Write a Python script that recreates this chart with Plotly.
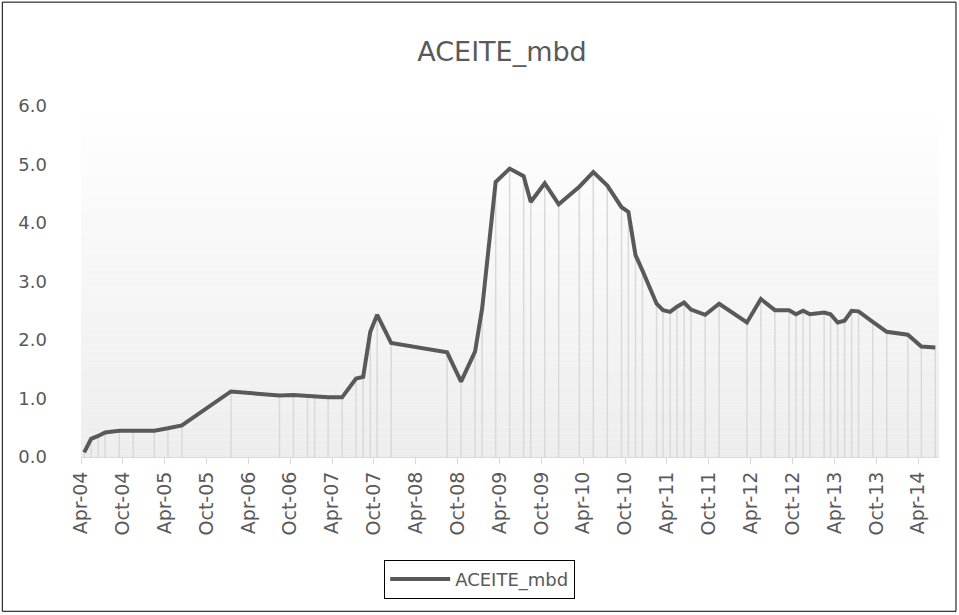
import plotly.graph_objects as go

# ---- data ----
dates = [
    "2004-04-15", "2004-05-15", "2004-06-15", "2004-07-15", "2004-09-15", "2004-11-15",
    "2005-02-15", "2005-04-15", "2005-06-15", "2006-01-15", "2006-08-15", "2006-10-15",
    "2006-12-15", "2007-01-15", "2007-03-15", "2007-05-15", "2007-07-15", "2007-08-15",
    "2007-09-15", "2007-10-15", "2007-12-15", "2008-08-15", "2008-10-15", "2008-12-15",
    "2009-01-15", "2009-03-15", "2009-05-15", "2009-07-15", "2009-08-15", "2009-10-15",
    "2009-12-15", "2010-03-15", "2010-05-15", "2010-07-15", "2010-09-15", "2010-10-15",
    "2010-11-15", "2010-12-15", "2011-02-15", "2011-03-15", "2011-04-15", "2011-05-15",
    "2011-06-15", "2011-07-15", "2011-09-15", "2011-11-15", "2012-03-15", "2012-05-15",
    "2012-07-15", "2012-09-15", "2012-10-15", "2012-11-15", "2012-12-15", "2013-02-15",
    "2013-03-15", "2013-04-15", "2013-05-15", "2013-06-15", "2013-07-15", "2013-09-15",
    "2013-11-15", "2014-02-15", "2014-04-15", "2014-06-15",
]
aceite_mbd = [
    0.08, 0.31, 0.36, 0.42, 0.45, 0.45,
    0.45, 0.49, 0.54, 1.12, 1.05, 1.06,
    1.04, 1.03, 1.02, 1.02, 1.34, 1.37,
    2.14, 2.43, 1.95, 1.79, 1.29, 1.80,
    2.54, 4.70, 4.93, 4.80, 4.36, 4.68,
    4.32, 4.62, 4.87, 4.64, 4.27, 4.19,
    3.45, 3.19, 2.62, 2.51, 2.48, 2.57,
    2.64, 2.52, 2.43, 2.62, 2.30, 2.70,
    2.51, 2.51, 2.44, 2.50, 2.44, 2.47,
    2.44, 2.30, 2.33, 2.50, 2.49, 2.31,
    2.14, 2.09, 1.89, 1.87,
]
series_name = "ACEITE_mbd"
chart_title = "ACEITE_mbd"
y_ticks = [0, 1, 2, 3, 4, 5, 6]
y_tick_labels = ["0.0", "1.0", "2.0", "3.0", "4.0", "5.0", "6.0"]

FONT = "DejaVu Sans"
TXT = "#595959"

fig = go.Figure()

# drop lines from each point to the axis
drop_x, drop_y = [], []
for d, v in zip(dates, aceite_mbd):
    drop_x += [d, d, None]
    drop_y += [0, v, None]
fig.add_trace(go.Scatter(
    x=drop_x, y=drop_y, mode="lines",
    line=dict(color="#d9d9d9", width=1.5),
    showlegend=False, hoverinfo="skip",
))

fig.add_trace(go.Scatter(
    x=dates, y=aceite_mbd, mode="lines", name=series_name,
    line=dict(color="#595959", width=4),
))

# gradient background of the plot area
shapes = []
N = 60
for i in range(N):
    t = (i + 0.5) / N  # 0 at top, 1 at bottom
    c = round(255 - 18 * t)
    shapes.append(dict(
        type="rect", xref="paper", yref="paper",
        x0=0, x1=1, y0=1 - (i + 1) / N, y1=1 - i / N,
        fillcolor=f"rgb({c},{c},{c})", line=dict(width=0), layer="below",
    ))

# outer chart frame
L, R, T, B = 80.7, 20, 106, 157.5
pw, ph = 959 - L - R, 615 - T - B
shapes.append(dict(
    type="rect", xref="paper", yref="paper",
    x0=(2 - L) / pw, x1=(956 - L) / pw,
    y0=(615 - B - 612) / ph, y1=(615 - B - 2) / ph,
    line=dict(color="#000000", width=1), fillcolor="rgba(0,0,0,0)",
))

fig.update_layout(
    width=959, height=615,
    margin=dict(l=L, r=R, t=T, b=B),
    paper_bgcolor="white", plot_bgcolor="rgba(0,0,0,0)",
    font=dict(family=FONT, color=TXT),
    title=dict(text=chart_title, x=502 / 959, xref="container", xanchor="center",
               y=(615 - 52) / 615, yref="container", yanchor="middle",
               font=dict(size=27, color=TXT, family=FONT)),
    shapes=shapes,
    showlegend=True,
    legend=dict(
        orientation="h", x=(479.5 - L) / pw, xanchor="center",
        y=(457.5 - 580) / ph, yanchor="middle",
        bordercolor="#000000", borderwidth=1, bgcolor="white",
        font=dict(size=18, color=TXT, family=FONT),
        itemwidth=60,
    ),
    xaxis=dict(
        type="date", range=["2004-04-01", "2014-07-01"],
        tick0="2004-04-01", dtick="M6", tickformat="%b-%y",
        tickangle=-90, ticks="outside", ticklen=6, tickcolor="#d9d9d9",
        showline=True, linecolor="#d9d9d9", linewidth=1,
        showgrid=False, zeroline=False,
        tickfont=dict(size=19, color=TXT, family=FONT),
    ),
    yaxis=dict(
        range=[0, 6], tickvals=y_ticks, ticktext=y_tick_labels,
        showgrid=False, zeroline=False, showline=False, ticks="",
        ticklabelstandoff=33,
        tickfont=dict(size=18, color=TXT, family=FONT),
    ),
)

fig.write_html("out.html",
               config={"displayModeBar": False},
               post_script="document.body.style.margin='0';")
